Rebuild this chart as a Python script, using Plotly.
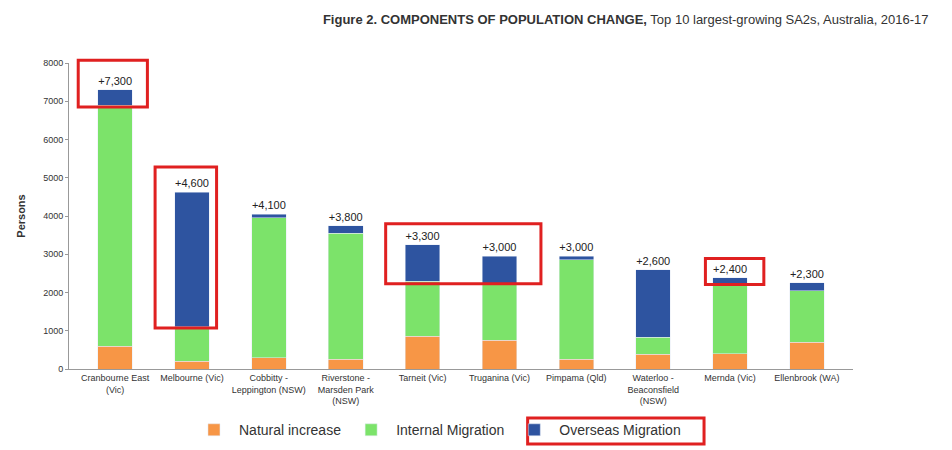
import plotly.graph_objects as go

cats = ["Cranbourne East<br>(Vic)", "Melbourne (Vic)", "Cobbitty -<br>Leppington (NSW)", "Riverstone -<br>Marsden Park<br>(NSW)",
        "Tarneit (Vic)", "Truganina (Vic)", "Pimpama (Qld)", "Waterloo -<br>Beaconsfield<br>(NSW)", "Mernda (Vic)", "Ellenbrook (WA)"]
natural = [600, 200, 300, 250, 850, 750, 250, 380, 400, 700]
internal = [6300, 900, 3650, 3300, 1450, 1450, 2600, 450, 1800, 1350]
overseas = [400, 3520, 100, 200, 950, 750, 100, 1770, 180, 200]
labels = ["+7,300", "+4,600", "+4,100", "+3,800", "+3,300", "+3,000", "+3,000", "+2,600", "+2,400", "+2,300"]

x = list(range(len(cats)))
fig = go.Figure()
fig.add_bar(x=x, y=natural, name="Natural increase", marker_color="#F79646", width=0.45)
fig.add_bar(x=x, y=internal, name="Internal Migration", marker_color="#7CE36A", width=0.45)
fig.add_bar(x=x, y=overseas, name="Overseas Migration", marker_color="#2E54A0", width=0.45,
            text=labels, textposition="outside", textfont=dict(size=11, color="#222"), cliponaxis=False)

red = dict(color="#E02020", width=3)
YMAX = 8000
boxes = [(-0.48, 0.42, 6850, 8070), (0.52, 1.32, 1070, 5280), (3.52, 5.54, 2230, 3800), (7.68, 8.44, 2210, 2890)]
for x0, x1, y0, y1 in boxes:
    fig.add_shape(type="rect", xref="x", yref="paper", x0=x0, x1=x1, y0=y0 / YMAX, y1=y1 / YMAX, line=red)
fig.add_shape(type="rect", xref="paper", yref="paper", x0=0.585, x1=0.81, y0=-0.245, y1=-0.16, line=red)

fig.update_layout(
    barmode="stack", width=952, height=450, plot_bgcolor="white", paper_bgcolor="white",
    margin=dict(l=58, r=107, t=55, b=80), bargap=0.5,
    font=dict(family="Liberation Sans, Arial", size=9, color="#333"),
    title=dict(text="<b>Figure 2. COMPONENTS OF POPULATION CHANGE,</b> Top 10 largest-growing SA2s, Australia, 2016-17",
               x=0.967, xanchor="right", yref="container", y=0.985, yanchor="top", font=dict(size=13, color="#333")),
    xaxis=dict(tickmode="array", tickvals=x, ticktext=cats, showline=True, linecolor="#999", range=[-0.6, 9.6],
               tickfont=dict(size=9)),
    yaxis=dict(range=[0, YMAX], dtick=1000, showgrid=False, showline=True, linecolor="#999", ticks="outside",
               ticklen=3, tickcolor="#999",
               title=dict(text="<b>Persons</b>", font=dict(size=11)), tickfont=dict(size=9)),
    legend=dict(orientation="h", x=0.47, xanchor="center", y=-0.2, yanchor="middle", bgcolor="rgba(0,0,0,0)",
                font=dict(size=14, color="#333"), traceorder="normal", itemwidth=40),
)
fig.write_html("out.html")
